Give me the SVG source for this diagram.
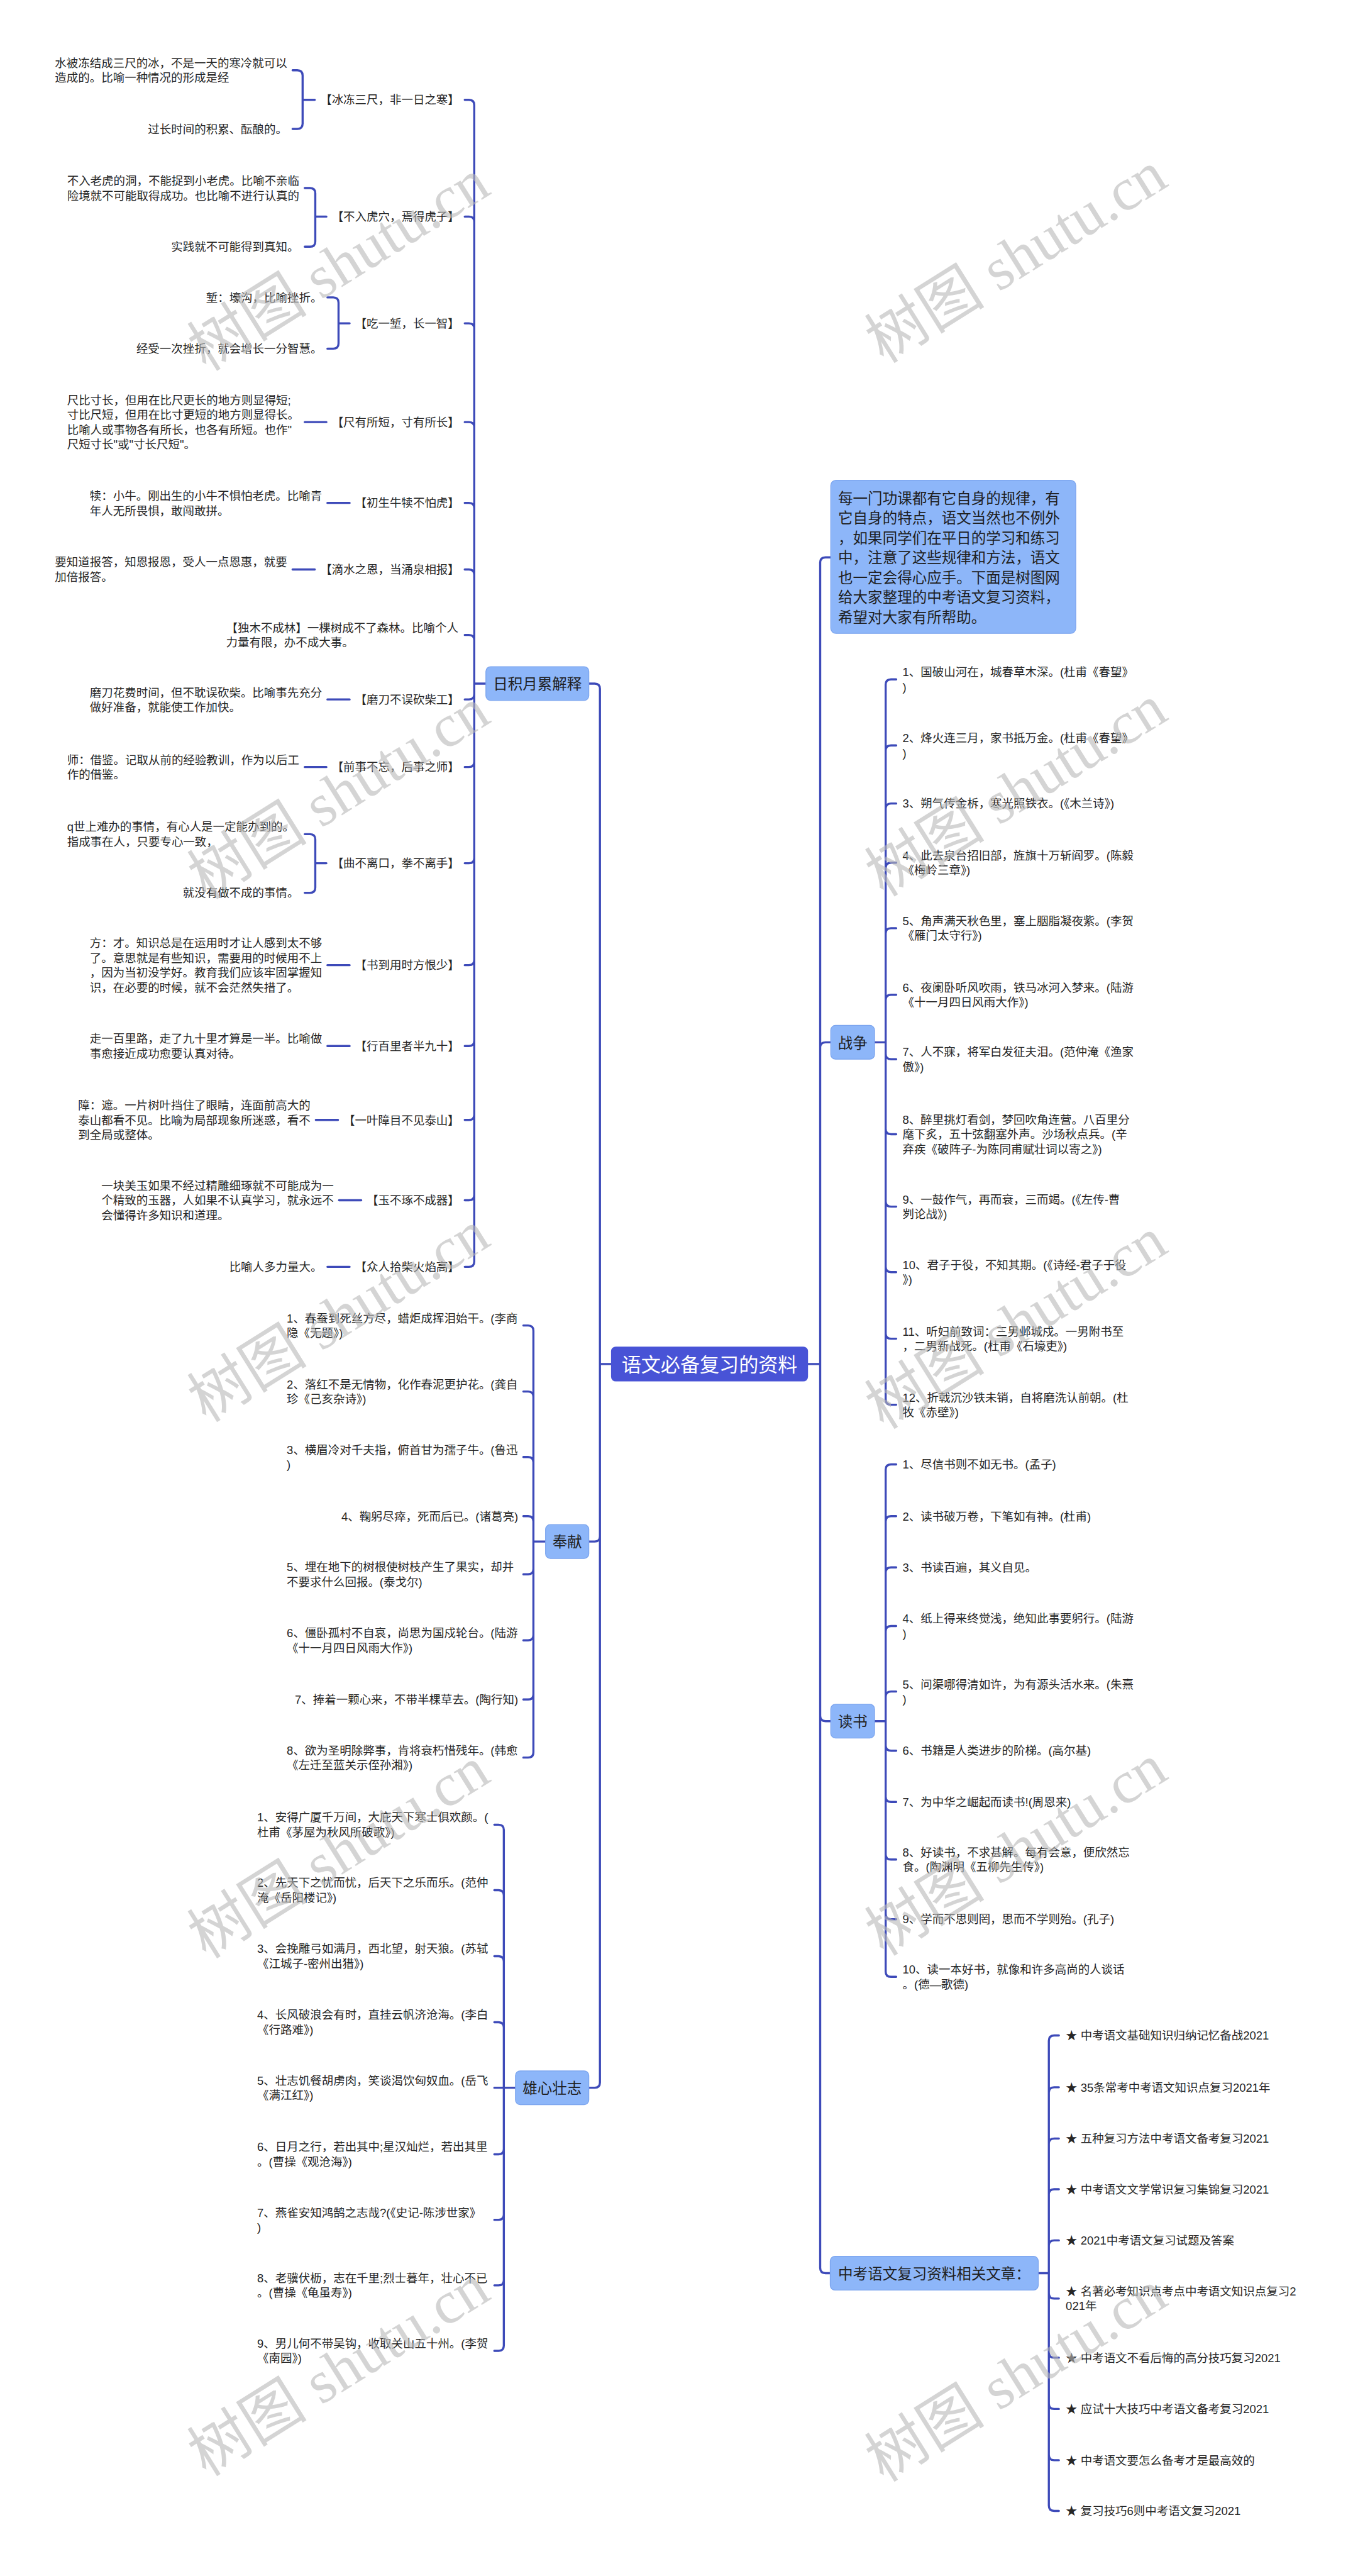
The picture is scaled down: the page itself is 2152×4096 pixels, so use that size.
<svg xmlns="http://www.w3.org/2000/svg" width="2152" height="4096" viewBox="0 0 2152 4096">
<style>
.c{fill:none;stroke:#3d4ab9;stroke-width:4;stroke-linecap:round;stroke-linejoin:round}
.t{font-family:"Liberation Sans","Noto Sans CJK SC",sans-serif;font-size:22px;fill:#262626}
.e{text-anchor:end}
.b1{fill:#8db6f9;stroke:#7ba4ee;stroke-width:1.5}
.t1{font-family:"Liberation Sans","Noto Sans CJK SC",sans-serif;font-size:28px;fill:#1f1f1f}
.m{text-anchor:middle}
.wm{font-family:"Liberation Serif","Noto Sans CJK SC",serif;font-size:114px;fill:#b8b8b8;fill-opacity:0.6;text-anchor:middle}
</style>
<rect x="0" y="0" width="2152" height="4096" fill="#ffffff"/>
<g transform="scale(0.84)">
<g id="connectors">
<path class="c" d="M1530,2582H1553V1065Q1553,1055 1563,1055H1573M1530,2582H1553V1983Q1553,1973 1563,1973H1573M1530,2582H1553V3248Q1553,3258 1563,3258H1573M1530,2582H1553V4293Q1553,4303 1563,4303H1572"/>
<path class="c" d="M1157,2582H1136V1304Q1136,1294 1126,1294H1115M1157,2582H1136V2908Q1136,2918 1126,2918H1115M1157,2582H1136V3942Q1136,3952 1126,3952H1115"/>
<path class="c" d="M920,1294H898V199Q898,189 888,189H880M920,1294H898V420Q898,410 888,410H880M920,1294H898V622Q898,612 888,612H880M920,1294H898V809Q898,799 888,799H880M920,1294H898V962Q898,952 888,952H880M920,1294H898V1088Q898,1078 888,1078H880M920,1294H898V1212Q898,1202 888,1202H880M920,1294H898V1314Q898,1324 888,1324H880M920,1294H898V1442Q898,1452 888,1452H880M920,1294H898V1624Q898,1634 888,1634H880M920,1294H898V1817Q898,1827 888,1827H880M920,1294H898V1970Q898,1980 888,1980H880M920,1294H898V2110Q898,2120 888,2120H880M920,1294H898V2262Q898,2272 888,2272H880M920,1294H898V2388Q898,2398 888,2398H880"/>
<path class="c" d="M596,189H573V143Q573,133 563,133H554M596,189H573V234Q573,244 563,244H554M618,410H597V366Q597,356 587,356H577M618,410H597V457Q597,467 587,467H577M662,612H641V573Q641,563 631,563H620M662,612H641V650Q641,660 631,660H620M577,799H618M620,952H662M554,1078H596M620,1324H662M577,1452H618M618,1634H597V1589Q597,1579 587,1579H577M618,1634H597V1680Q597,1690 587,1690H577M620,1827H662M620,1980H662M598,2120H640M642,2272H684M620,2398H662"/>
<path class="c" d="M1033,2918H1010V2519Q1010,2509 1000,2509H991M1033,2918H1010V2644Q1010,2634 1000,2634H991M1033,2918H1010V2768Q1010,2758 1000,2758H991M1033,2918H1010V2880Q1010,2870 1000,2870H991M1033,2918H1010V2970Q1010,2980 1000,2980H991M1033,2918H1010V3095Q1010,3105 1000,3105H991M1033,2918H1010V3207Q1010,3217 1000,3217H991M1033,2918H1010V3317Q1010,3327 1000,3327H991"/>
<path class="c" d="M976,3952H954V3464Q954,3454 944,3454H936M976,3952H954V3588Q954,3578 944,3578H936M976,3952H954V3713Q954,3703 944,3703H936M976,3952H954V3838Q954,3828 944,3828H936M976,3952H936M976,3952H954V4068Q954,4078 944,4078H936M976,3952H954V4192Q954,4202 944,4202H936M976,3952H954V4316Q954,4326 944,4326H936M976,3952H954V4440Q954,4450 944,4450H936"/>
<path class="c" d="M1656,1973H1677V1296Q1677,1286 1687,1286H1697M1656,1973H1677V1421Q1677,1411 1687,1411H1697M1656,1973H1677V1531Q1677,1521 1687,1521H1697M1656,1973H1677V1643Q1677,1633 1687,1633H1697M1656,1973H1677V1767Q1677,1757 1687,1757H1697M1656,1973H1677V1893Q1677,1883 1687,1883H1697M1656,1973H1677V1995Q1677,2005 1687,2005H1697M1656,1973H1677V2137Q1677,2147 1687,2147H1697M1656,1973H1677V2274Q1677,2284 1687,2284H1697M1656,1973H1677V2398Q1677,2408 1687,2408H1697M1656,1973H1677V2524Q1677,2534 1687,2534H1697M1656,1973H1677V2649Q1677,2659 1687,2659H1697"/>
<path class="c" d="M1656,3258H1677V2782Q1677,2772 1687,2772H1697M1656,3258H1677V2880Q1677,2870 1687,2870H1697M1656,3258H1677V2977Q1677,2967 1687,2967H1697M1656,3258H1677V3088Q1677,3078 1687,3078H1697M1656,3258H1677V3212Q1677,3202 1687,3202H1697M1656,3258H1677V3304Q1677,3314 1687,3314H1697M1656,3258H1677V3401Q1677,3411 1687,3411H1697M1656,3258H1677V3510Q1677,3520 1687,3520H1697M1656,3258H1677V3623Q1677,3633 1687,3633H1697M1656,3258H1677V3732Q1677,3742 1687,3742H1697"/>
<path class="c" d="M1966,4303H1986V3863Q1986,3853 1996,3853H2005M1966,4303H1986V3961Q1986,3951 1996,3951H2005M1966,4303H1986V4058Q1986,4048 1996,4048H2005M1966,4303H1986V4154Q1986,4144 1996,4144H2005M1966,4303H1986V4251Q1986,4241 1996,4241H2005M1966,4303H1986V4341Q1986,4351 1996,4351H2005M1966,4303H1986V4453Q1986,4463 1996,4463H2005M1966,4303H1986V4550Q1986,4560 1996,4560H2005M1966,4303H1986V4647Q1986,4657 1996,4657H2005M1966,4303H1986V4743Q1986,4753 1996,4753H2005"/>
</g>
<g id="root"><rect x="1157" y="2549" width="373" height="66" rx="9" fill="#4853d6"/><text class="t1 m" x="1343.5" y="2596" style="font-size:37px;fill:#ffffff">语文必备复习的资料</text></g>
<g id="n-intro"><rect class="b1" x="1573" y="909" width="464" height="290" rx="10"/>
<text class="t1"><tspan x="1587" y="954">每一门功课都有它自身的规律，有</tspan><tspan x="1587" y="991">它自身的特点，语文当然也不例外</tspan><tspan x="1587" y="1029">，如果同学们在平日的学习和练习</tspan><tspan x="1587" y="1066">中，注意了这些规律和方法，语文</tspan><tspan x="1587" y="1104">也一定会得心应手。下面是树图网</tspan><tspan x="1587" y="1141">给大家整理的中考语文复习资料，</tspan><tspan x="1587" y="1179">希望对大家有所帮助。</tspan></text></g>
<g id="n-rijiyuelei"><rect class="b1" x="920" y="1262" width="195" height="64" rx="9"/><text class="t1 m" x="1017.5" y="1305">日积月累解释</text></g>
<g id="n-fengxian"><rect class="b1" x="1033" y="2886" width="82" height="64" rx="9"/><text class="t1 m" x="1074" y="2929">奉献</text></g>
<g id="n-xiongxin"><rect class="b1" x="976" y="3920" width="139" height="64" rx="9"/><text class="t1 m" x="1045.5" y="3963">雄心壮志</text></g>
<g id="n-zhanzheng"><rect class="b1" x="1573" y="1941" width="83" height="64" rx="9"/><text class="t1 m" x="1614.5" y="1984">战争</text></g>
<g id="n-dushu"><rect class="b1" x="1573" y="3226" width="83" height="64" rx="9"/><text class="t1 m" x="1614.5" y="3269">读书</text></g>
<g id="n-wenzhang"><rect class="b1" x="1572" y="4271" width="394" height="64" rx="9"/><text class="t1 m" x="1769" y="4314">中考语文复习资料相关文章：</text></g>

<g id="idiom-1"><text class="t e" x="870" y="197">【冰冻三尺，非一日之寒】</text></g>
<g id="exp-1a"><text class="t"><tspan x="104" y="127">水被冻结成三尺的冰，不是一天的寒冷就可以</tspan><tspan x="104" y="155">造成的。比喻一种情况的形成是经</tspan></text></g>
<g id="exp-1b"><text class="t e" x="544" y="252">过长时间的积累、酝酿的。</text></g>
<g id="idiom-2"><text class="t e" x="870" y="418">【不入虎穴，焉得虎子】</text></g>
<g id="exp-2a"><text class="t"><tspan x="127" y="350">不入老虎的洞，不能捉到小老虎。比喻不亲临</tspan><tspan x="127" y="378">险境就不可能取得成功。也比喻不进行认真的</tspan></text></g>
<g id="exp-2b"><text class="t e" x="566" y="475">实践就不可能得到真知。</text></g>
<g id="idiom-3"><text class="t e" x="870" y="620">【吃一堑，长一智】</text></g>
<g id="exp-3a"><text class="t e" x="610" y="571">堑：壕沟，比喻挫折。</text></g>
<g id="exp-3b"><text class="t e" x="610" y="668">经受一次挫折，就会增长一分智慧。</text></g>
<g id="idiom-4"><text class="t e" x="870" y="807">【尺有所短，寸有所长】</text></g>
<g id="exp-4"><text class="t"><tspan x="127" y="765">尺比寸长，但用在比尺更长的地方则显得短;</tspan><tspan x="127" y="793">寸比尺短，但用在比寸更短的地方则显得长。</tspan><tspan x="127" y="821">比喻人或事物各有所长，也各有所短。也作&quot;</tspan><tspan x="127" y="849">尺短寸长&quot;或&quot;寸长尺短&quot;。</tspan></text></g>
<g id="idiom-5"><text class="t e" x="870" y="960">【初生牛犊不怕虎】</text></g>
<g id="exp-5"><text class="t"><tspan x="170" y="947">犊：小牛。刚出生的小牛不惧怕老虎。比喻青</tspan><tspan x="170" y="975">年人无所畏惧，敢闯敢拼。</tspan></text></g>
<g id="idiom-6"><text class="t e" x="870" y="1086">【滴水之恩，当涌泉相报】</text></g>
<g id="exp-6"><text class="t"><tspan x="104" y="1072">要知道报答，知恩报恩，受人一点恩惠，就要</tspan><tspan x="104" y="1100">加倍报答。</tspan></text></g>
<g id="idiom-7"><text class="t"><tspan x="428" y="1196">【独木不成林】一棵树成不了森林。比喻个人</tspan><tspan x="428" y="1224">力量有限，办不成大事。</tspan></text></g>
<g id="idiom-8"><text class="t e" x="870" y="1332">【磨刀不误砍柴工】</text></g>
<g id="exp-8"><text class="t"><tspan x="170" y="1319">磨刀花费时间，但不耽误砍柴。比喻事先充分</tspan><tspan x="170" y="1347">做好准备，就能使工作加快。</tspan></text></g>
<g id="idiom-9"><text class="t e" x="870" y="1460">【前事不忘，后事之师】</text></g>
<g id="exp-9"><text class="t"><tspan x="127" y="1446">师：借鉴。记取从前的经验教训，作为以后工</tspan><tspan x="127" y="1474">作的借鉴。</tspan></text></g>
<g id="idiom-10"><text class="t e" x="870" y="1642">【曲不离口，拳不离手】</text></g>
<g id="exp-10a"><text class="t"><tspan x="127" y="1573">q世上难办的事情，有心人是一定能办到的。</tspan><tspan x="127" y="1601">指成事在人，只要专心一致，</tspan></text></g>
<g id="exp-10b"><text class="t e" x="566" y="1698">就没有做不成的事情。</text></g>
<g id="idiom-11"><text class="t e" x="870" y="1835">【书到用时方恨少】</text></g>
<g id="exp-11"><text class="t"><tspan x="170" y="1793">方：才。知识总是在运用时才让人感到太不够</tspan><tspan x="170" y="1821">了。意思就是有些知识，需要用的时候用不上</tspan><tspan x="170" y="1849">，因为当初没学好。教育我们应该牢固掌握知</tspan><tspan x="170" y="1877">识，在必要的时候，就不会茫然失措了。</tspan></text></g>
<g id="idiom-12"><text class="t e" x="870" y="1988">【行百里者半九十】</text></g>
<g id="exp-12"><text class="t"><tspan x="170" y="1974">走一百里路，走了九十里才算是一半。比喻做</tspan><tspan x="170" y="2002">事愈接近成功愈要认真对待。</tspan></text></g>
<g id="idiom-13"><text class="t e" x="870" y="2128">【一叶障目不见泰山】</text></g>
<g id="exp-13"><text class="t"><tspan x="148" y="2100">障：遮。一片树叶挡住了眼睛，连面前高大的</tspan><tspan x="148" y="2128">泰山都看不见。比喻为局部现象所迷惑，看不</tspan><tspan x="148" y="2156">到全局或整体。</tspan></text></g>
<g id="idiom-14"><text class="t e" x="870" y="2280">【玉不琢不成器】</text></g>
<g id="exp-14"><text class="t"><tspan x="192" y="2252">一块美玉如果不经过精雕细琢就不可能成为一</tspan><tspan x="192" y="2280">个精致的玉器，人如果不认真学习，就永远不</tspan><tspan x="192" y="2308">会懂得许多知识和道理。</tspan></text></g>
<g id="idiom-15"><text class="t e" x="870" y="2406">【众人拾柴火焰高】</text></g>
<g id="exp-15"><text class="t e" x="610" y="2406">比喻人多力量大。</text></g>

<g id="fx-1"><text class="t"><tspan x="543" y="2503">1、春蚕到死丝方尽，蜡炬成挥泪始干。(李商</tspan><tspan x="543" y="2531">隐《无题》)</tspan></text></g>
<g id="fx-2"><text class="t"><tspan x="543" y="2628">2、落红不是无情物，化作春泥更护花。(龚自</tspan><tspan x="543" y="2656">珍《己亥杂诗》)</tspan></text></g>
<g id="fx-3"><text class="t"><tspan x="543" y="2752">3、横眉冷对千夫指，俯首甘为孺子牛。(鲁迅</tspan><tspan x="543" y="2780">)</tspan></text></g>
<g id="fx-4"><text class="t e" x="981" y="2878">4、鞠躬尽瘁，死而后已。(诸葛亮)</text></g>
<g id="fx-5"><text class="t"><tspan x="543" y="2974">5、埋在地下的树根使树枝产生了果实，却并</tspan><tspan x="543" y="3002">不要求什么回报。(泰戈尔)</tspan></text></g>
<g id="fx-6"><text class="t"><tspan x="543" y="3099">6、僵卧孤村不自哀，尚思为国戍轮台。(陆游</tspan><tspan x="543" y="3127">《十一月四日风雨大作》)</tspan></text></g>
<g id="fx-7"><text class="t e" x="981" y="3225">7、捧着一颗心来，不带半棵草去。(陶行知)</text></g>
<g id="fx-8"><text class="t"><tspan x="543" y="3321">8、欲为圣明除弊事，肯将衰朽惜残年。(韩愈</tspan><tspan x="543" y="3349">《左迁至蓝关示侄孙湘》)</tspan></text></g>

<g id="xx-1"><text class="t"><tspan x="487" y="3448">1、安得广厦千万间，大庇天下寒士俱欢颜。(</tspan><tspan x="487" y="3476">杜甫《茅屋为秋风所破歌》)</tspan></text></g>
<g id="xx-2"><text class="t"><tspan x="487" y="3572">2、先天下之忧而忧，后天下之乐而乐。(范仲</tspan><tspan x="487" y="3600">淹《岳阳楼记》)</tspan></text></g>
<g id="xx-3"><text class="t"><tspan x="487" y="3697">3、会挽雕弓如满月，西北望，射天狼。(苏轼</tspan><tspan x="487" y="3725">《江城子-密州出猎》)</tspan></text></g>
<g id="xx-4"><text class="t"><tspan x="487" y="3822">4、长风破浪会有时，直挂云帆济沧海。(李白</tspan><tspan x="487" y="3850">《行路难》)</tspan></text></g>
<g id="xx-5"><text class="t"><tspan x="487" y="3946">5、壮志饥餐胡虏肉，笑谈渴饮匈奴血。(岳飞</tspan><tspan x="487" y="3974">《满江红》)</tspan></text></g>
<g id="xx-6"><text class="t"><tspan x="487" y="4072">6、日月之行，若出其中;星汉灿烂，若出其里</tspan><tspan x="487" y="4100">。(曹操《观沧海》)</tspan></text></g>
<g id="xx-7"><text class="t"><tspan x="487" y="4196">7、燕雀安知鸿鹄之志哉?(《史记-陈涉世家》</tspan><tspan x="487" y="4224">)</tspan></text></g>
<g id="xx-8"><text class="t"><tspan x="487" y="4320">8、老骥伏枥，志在千里;烈士暮年，壮心不已</tspan><tspan x="487" y="4348">。(曹操《龟虽寿》)</tspan></text></g>
<g id="xx-9"><text class="t"><tspan x="487" y="4444">9、男儿何不带吴钩，收取关山五十州。(李贺</tspan><tspan x="487" y="4472">《南园》)</tspan></text></g>

<g id="zz-1"><text class="t"><tspan x="1709" y="1280">1、国破山河在，城春草木深。(杜甫《春望》</tspan><tspan x="1709" y="1308">)</tspan></text></g>
<g id="zz-2"><text class="t"><tspan x="1709" y="1405">2、烽火连三月，家书抵万金。(杜甫《春望》</tspan><tspan x="1709" y="1433">)</tspan></text></g>
<g id="zz-3"><text class="t" x="1709" y="1529">3、朔气传金柝，寒光照铁衣。(《木兰诗》)</text></g>
<g id="zz-4"><text class="t"><tspan x="1709" y="1627">4、此去泉台招旧部，旌旗十万斩阎罗。(陈毅</tspan><tspan x="1709" y="1655">《梅岭三章》)</tspan></text></g>
<g id="zz-5"><text class="t"><tspan x="1709" y="1751">5、角声满天秋色里，塞上胭脂凝夜紫。(李贺</tspan><tspan x="1709" y="1779">《雁门太守行》)</tspan></text></g>
<g id="zz-6"><text class="t"><tspan x="1709" y="1877">6、夜阑卧听风吹雨，铁马冰河入梦来。(陆游</tspan><tspan x="1709" y="1905">《十一月四日风雨大作》)</tspan></text></g>
<g id="zz-7"><text class="t"><tspan x="1709" y="1999">7、人不寐，将军白发征夫泪。(范仲淹《渔家</tspan><tspan x="1709" y="2027">傲》)</tspan></text></g>
<g id="zz-8"><text class="t"><tspan x="1709" y="2127">8、醉里挑灯看剑，梦回吹角连营。八百里分</tspan><tspan x="1709" y="2155">麾下炙，五十弦翻塞外声。沙场秋点兵。(辛</tspan><tspan x="1709" y="2183">弃疾《破阵子-为陈同甫赋壮词以寄之》)</tspan></text></g>
<g id="zz-9"><text class="t"><tspan x="1709" y="2278">9、一鼓作气，再而衰，三而竭。(《左传-曹</tspan><tspan x="1709" y="2306">刿论战》)</tspan></text></g>
<g id="zz-10"><text class="t"><tspan x="1709" y="2402">10、君子于役，不知其期。(《诗经-君子于役</tspan><tspan x="1709" y="2430">》)</tspan></text></g>
<g id="zz-11"><text class="t"><tspan x="1709" y="2528">11、听妇前致词：三男邺城戍。一男附书至</tspan><tspan x="1709" y="2556">，二男新战死。(杜甫《石壕吏》)</tspan></text></g>
<g id="zz-12"><text class="t"><tspan x="1709" y="2653">12、折戟沉沙铁未销，自将磨洗认前朝。(杜</tspan><tspan x="1709" y="2681">牧《赤壁》)</tspan></text></g>

<g id="ds-1"><text class="t" x="1709" y="2780">1、尽信书则不如无书。(孟子)</text></g>
<g id="ds-2"><text class="t" x="1709" y="2878">2、读书破万卷，下笔如有神。(杜甫)</text></g>
<g id="ds-3"><text class="t" x="1709" y="2975">3、书读百遍，其义自见。</text></g>
<g id="ds-4"><text class="t"><tspan x="1709" y="3072">4、纸上得来终觉浅，绝知此事要躬行。(陆游</tspan><tspan x="1709" y="3100">)</tspan></text></g>
<g id="ds-5"><text class="t"><tspan x="1709" y="3196">5、问渠哪得清如许，为有源头活水来。(朱熹</tspan><tspan x="1709" y="3224">)</tspan></text></g>
<g id="ds-6"><text class="t" x="1709" y="3322">6、书籍是人类进步的阶梯。(高尔基)</text></g>
<g id="ds-7"><text class="t" x="1709" y="3419">7、为中华之崛起而读书!(周恩来)</text></g>
<g id="ds-8"><text class="t"><tspan x="1709" y="3514">8、好读书，不求甚解。每有会意，便欣然忘</tspan><tspan x="1709" y="3542">食。(陶渊明《五柳先生传》)</tspan></text></g>
<g id="ds-9"><text class="t" x="1709" y="3641">9、学而不思则罔，思而不学则殆。(孔子)</text></g>
<g id="ds-10"><text class="t"><tspan x="1709" y="3736">10、读一本好书，就像和许多高尚的人谈话</tspan><tspan x="1709" y="3764">。(德—歌德)</tspan></text></g>

<g id="wz-1"><text class="t" x="2018" y="3861">★ 中考语文基础知识归纳记忆备战2021</text></g>
<g id="wz-2"><text class="t" x="2018" y="3959">★ 35条常考中考语文知识点复习2021年</text></g>
<g id="wz-3"><text class="t" x="2018" y="4056">★ 五种复习方法中考语文备考复习2021</text></g>
<g id="wz-4"><text class="t" x="2018" y="4152">★ 中考语文文学常识复习集锦复习2021</text></g>
<g id="wz-5"><text class="t" x="2018" y="4249">★ 2021中考语文复习试题及答案</text></g>
<g id="wz-6"><text class="t"><tspan x="2018" y="4345">★ 名著必考知识点考点中考语文知识点复习2</tspan><tspan x="2018" y="4373">021年</tspan></text></g>
<g id="wz-7"><text class="t" x="2018" y="4471">★ 中考语文不看后悔的高分技巧复习2021</text></g>
<g id="wz-8"><text class="t" x="2018" y="4568">★ 应试十大技巧中考语文备考复习2021</text></g>
<g id="wz-9"><text class="t" x="2018" y="4665">★ 中考语文要怎么备考才是最高效的</text></g>
<g id="wz-10"><text class="t" x="2018" y="4761">★ 复习技巧6则中考语文复习2021</text></g>

<g id="watermark">
<text class="wm" x="643" y="540" transform="rotate(-32 643 505)">树图 shutu.cn</text>
<text class="wm" x="643" y="1540" transform="rotate(-32 643 1505)">树图 shutu.cn</text>
<text class="wm" x="643" y="2530" transform="rotate(-32 643 2495)">树图 shutu.cn</text>
<text class="wm" x="643" y="3545" transform="rotate(-32 643 3510)">树图 shutu.cn</text>
<text class="wm" x="643" y="4525" transform="rotate(-32 643 4490)">树图 shutu.cn</text>
<text class="wm" x="1926" y="525" transform="rotate(-32 1926 490)">树图 shutu.cn</text>
<text class="wm" x="1926" y="1535" transform="rotate(-32 1926 1500)">树图 shutu.cn</text>
<text class="wm" x="1926" y="2543" transform="rotate(-32 1926 2508)">树图 shutu.cn</text>
<text class="wm" x="1926" y="3540" transform="rotate(-32 1926 3505)">树图 shutu.cn</text>
<text class="wm" x="1926" y="4536" transform="rotate(-32 1926 4501)">树图 shutu.cn</text>
</g>
</g>
</svg>
